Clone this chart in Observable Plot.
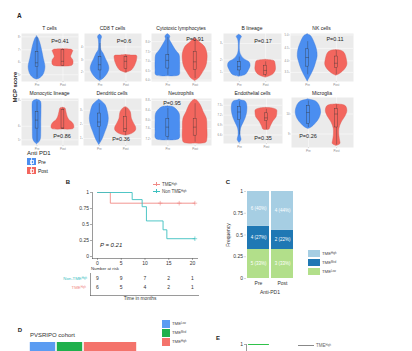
<!DOCTYPE html>
<html><head><meta charset="utf-8">
<script src="https://cdn.jsdelivr.net/npm/d3@7"></script>
<script src="https://cdn.jsdelivr.net/npm/@observablehq/plot@0.6"></script>
<style>
html,body{margin:0;padding:0;background:#fff;}
#root{position:relative;width:412px;height:351px;overflow:hidden;font-family:"Liberation Sans",Arial,sans-serif;color:#222;}
.abs{position:absolute;line-height:0;}
.t{position:absolute;white-space:nowrap;line-height:1;}
sup{font-size:60%;vertical-align:0.45em;line-height:0;}
</style></head><body><div id="root"></div>
<script>
// ---------------- DATA ----------------
const groups = ["Pre", "Post"];
const cellTypes = ["T cells","CD8 T cells","Cytotoxic lymphocytes","B lineage","NK cells",
  "Monocytic lineage","Dendritic cells","Neutrophils","Endothelial cells","Microglia"];
const pValues = ["0.41","0.6","0.91","0.17","0.11","0.86","0.36","0.95","0.35","0.26"];
// violin outlines: [score (0-100 of panel range), relative density]
const violinPre = [
  [[94,0],[90,0.12],[79,0.29],[65,0.43],[47,0.58],[30,0.72],[15,0.58],[7,0.29],[4,0]],
  [[97,0],[96,0.1],[92,0.17],[86,0.1],[65,0.12],[58,0.3],[47,0.5],[37,0.7],[26,0.8],[15,0.62],[7,0.35],[1,0]],
  [[98,0],[97,0.1],[93,0.2],[88,0.15],[80,0.3],[65,0.65],[55,0.95],[44,1.0],[24,1.0],[13,0.95],[11,0]],
  [[97,0],[96,0.1],[93,0.22],[87,0.1],[79,0.05],[58,0.1],[47,0.4],[40,0.85],[33,0.95],[23,0.8],[14,0.55],[10,0]],
  [[98,0],[97,0.1],[95,0.25],[83,0.5],[66,0.72],[52,0.77],[38,0.64],[24,0.46],[10,0.2],[0,0]],
  [[97,0],[96,0.2],[93,0.34],[71,0.38],[50,0.36],[29,0.36],[11,0.3],[2,0]],
  [[97,0],[96,0.1],[86,0.52],[71,0.72],[57,0.8],[43,0.72],[29,0.52],[14,0.29],[1,0]],
  [[83,0],[82,0.4],[79,0.6],[68,0.95],[50,1.0],[29,1.0],[14,0.95],[11,0]],
  [[97,0],[96,0.1],[93,0.5],[85,0.63],[70,0.63],[56,0.5],[44,0.3],[33,0.12],[19,0.08],[10,0.15],[7,0.15],[1,0]],
  [[96,0],[95,0.2],[92,0.6],[85,0.85],[70,1.0],[57,0.85],[47,0.55],[40,0.25],[37,0]]
];
const violinPost = [
  [[67,0],[66,0.75],[64,0.88],[58,0.8],[51,0.7],[44,0.88],[37,0.9],[33,0.8],[31,0]],
  [[55,0],[54,0.5],[53,0.95],[45,0.95],[40,0.9],[30,0.72],[23,0.5],[18,0]],
  [[89,0],[88,0.1],[79,0.5],[72,0.8],[58,1.0],[44,1.0],[31,0.9],[17,0.6],[6,0.3],[1,0]],
  [[45,0],[44,0.5],[42,0.75],[33,0.85],[23,0.85],[14,0.6],[8,0]],
  [[65,0],[64,0.38],[59,0.65],[45,0.82],[34,0.85],[24,0.64],[16,0.3],[12,0]],
  [[80,0],[79,0.2],[71,0.3],[61,0.4],[54,0.55],[46,0.9],[39,0.98],[35,0.9],[34,0]],
  [[81,0],[80,0.15],[71,0.43],[57,0.52],[46,0.72],[39,0.87],[32,0.87],[25,0.55],[21,0]],
  [[97,0],[96,0.15],[86,0.45],[71,0.7],[57,0.95],[36,1.0],[14,1.0],[6,0.9],[4,0]],
  [[79,0],[78,0.5],[74,0.88],[67,0.9],[59,0.85],[48,0.55],[37,0.35],[31,0.25],[30,0]],
  [[86,0],[85,0.5],[82,0.75],[73,0.85],[63,0.72],[50,0.4],[37,0.22],[23,0.22],[13,0.28],[7,0.3],[3,0]]
];
// box stats: [lower whisker, q1, median, q3, upper whisker]
const boxPre = [[7,30,39,61,92],[5,23,35,51,79],[13,27,44,55,92],[12,23,31,40,51],[14,31,50,67,83],
  [7,36,54,71,93],[7,39,50,68,89],[11,18,39,57,79],[19,52,70,81,93],[40,47,70,83,93]];
const boxPost = [[31,33,42,65,66],[18,26,42,51,54],[6,24,41,62,83],[10,14,23,33,41],[14,28,38,52,64],
  [34,36,37,75,79],[21,29,36,61,79],[7,21,39,57,89],[31,50,57,67,76],[5,40,67,77,85]];
const yTicks = [[14,40,66,93],[20,45,72],[3,22,42,62,83],[19,45,79],[19,43,69,97],
  [12,41,96],[15,45,75],[14,36,54,75,96],[19,41,63,85],[27,67]];
const yTickLabels = [["5","6","7","8"],["2","3","4"],["6.0","6.5","7.0","7.5","8.0"],["1","2","3"],["3.5","4.0","4.5","5.0"],
  ["5","6","8"],["1","2","3"],["7.2","7.6","8.0","8.4","8.8"],["6.6","6.9","7.2","7.5"],["9","10"]];

// Kaplan-Meier (panel B)
const kmHighT = [0, 2.7, 20.5];
const kmHighS = [1, 0.833, 0.833];
const kmNonT = [0, 7.3, 9.4, 10.3, 13.8, 14.6, 20.5];
const kmNonS = [1, 0.889, 0.778, 0.556, 0.417, 0.278, 0.278];
const censorHighT = [13.2, 17.2, 20.5];
const censorHighS = [0.833, 0.833, 0.833];
const censorNonT = [20.5];
const censorNonS = [0.278];
const kmYTicks = [0, 0.25, 0.5, 0.75, 1];
const riskTimes = [0, 5, 10, 15, 20];
const riskGroups = ["Non", "High"];
const riskNon = [9, 9, 7, 2, 1];
const riskHigh = [6, 5, 4, 2, 1];
const pKM = "0.21";

// Panel C
const cGroups = ["Pre", "Post"];
const tmeClasses = ["Low", "Med", "High"];
const cPreCounts = [5, 4, 6];
const cPostCounts = [3, 2, 4];

// Panel D
const dClasses = ["Low", "Med", "High"];
const dCounts = [2, 2, 4];

// Panel E
const eT = [0, 5.2];
const eS = [1, 1];

// ---------------- STYLE / LAYOUT ----------------
const colPre = "#4b8ef0", colPost = "#f3665e";
const strokePre = "#3a77d8", strokePost = "#d9534b";
const colPink = "#f08a86", colTeal = "#3cc0bf";
const cColors = ["#b2df8a", "#1f78b4", "#a6cee3"];
const dColors = ["#5b9cf2", "#1fb04c", "#f4736b"];
const font = "Liberation Sans, Arial, sans-serif";
// panel boxes [left, right, top, bottom] and P-label centres
const panelBox = [[21,78,33,81],[84,141,33,81],[151,211,33,81],[223,281,33,81],[290,353,33,81],
  [21,78,98,145],[83,141,98,145],[151,211,98,145],[223,282,98,143],[291,353,97,147]];
const pPos = [[60,42],[124,42],[195,40],[263,42],[335,40],[62,137],[121,140],[172,104],[263,139],[308,137]];

const root = document.getElementById("root");
function place(node, left, top) {
  const d = document.createElement("div"); d.className = "abs";
  d.style.left = left + "px"; d.style.top = top + "px";
  d.appendChild(node); root.appendChild(d); return d;
}
function label(html, x, y, o = {}) {
  const {size = 5, anchor = "middle", weight = "normal", color = "#222", italic = false, rotate = 0} = o;
  const d = document.createElement("div"); d.className = "t"; d.innerHTML = html;
  d.style.left = x + "px"; d.style.top = y + "px"; d.style.fontSize = size + "px";
  d.style.fontWeight = weight; d.style.color = color; if (italic) d.style.fontStyle = "italic";
  const tx = anchor === "start" ? "0" : anchor === "end" ? "-100%" : "-50%";
  d.style.transform = `translate(${tx},-50%)` + (rotate ? ` rotate(${rotate}deg)` : "");
  if (rotate) d.style.transformOrigin = anchor === "middle" ? "50% 50%" : "0 50%";
  root.appendChild(d); return d;
}
function box(x, y, w, h, color, extra = "") {
  const d = document.createElement("div");
  d.style.cssText = `position:absolute;left:${x}px;top:${y}px;width:${w}px;height:${h}px;background:${color};${extra}`;
  root.appendChild(d); return d;
}

// ---------------- PANEL A: violins ----------------
label("A", 17, 16, {size: 6.5, weight: "bold", anchor: "start"});
label("MCP score", 15, 87, {size: 6, weight: "bold", rotate: -90});

cellTypes.forEach((name, i) => {
  const [L, R, T, B] = panelBox[i];
  const mL = 9, mR = 1, mT = 1, mB = 7;
  const pre = violinPre[i].map(([y, w]) => ({pos: 1, y, w}));
  const post = violinPost[i].map(([y, w]) => ({pos: 2, y, w}));
  const boxes = [boxPre[i], boxPost[i]].map((b, gi) => ({pos: gi + 1, lo: b[0], q1: b[1], med: b[2], q3: b[3], hi: b[4]}));
  const half = 0.45, bw = 0.055;
  const chart = Plot.plot({
    width: R - L + mL + mR, height: B - T + mT + mB,
    marginLeft: mL, marginRight: mR, marginTop: mT, marginBottom: mB,
    style: {fontFamily: font, background: "transparent", overflow: "visible"},
    x: {domain: [0.4, 2.6]}, y: {domain: [0, 100]},
    marks: [
      Plot.frame({fill: "#ebebeb", stroke: "none"}),
      Plot.gridY({ticks: yTicks[i], stroke: "#fff", strokeOpacity: 1, strokeWidth: 0.5}),
      Plot.gridX({ticks: [1, 2], stroke: "#fff", strokeOpacity: 1, strokeWidth: 0.5}),
      Plot.areaX(pre, {y: "y", x1: d => d.pos - d.w * half, x2: d => d.pos + d.w * half, fill: colPre, stroke: strokePre, strokeWidth: 0.4, curve: "catmull-rom"}),
      Plot.areaX(post, {y: "y", x1: d => d.pos - d.w * half, x2: d => d.pos + d.w * half, fill: colPost, stroke: strokePost, strokeWidth: 0.4, curve: "catmull-rom"}),
      Plot.ruleX(boxes, {x: "pos", y1: "lo", y2: "q1", stroke: "#333", strokeWidth: 0.35}),
      Plot.ruleX(boxes, {x: "pos", y1: "q3", y2: "hi", stroke: "#333", strokeWidth: 0.35}),
      Plot.rect(boxes, {x1: d => d.pos - bw, x2: d => d.pos + bw, y1: "q1", y2: "q3", fill: "none", stroke: "#333", strokeWidth: 0.35}),
      Plot.ruleY(boxes, {x1: d => d.pos - bw, x2: d => d.pos + bw, y: "med", stroke: "#333", strokeWidth: 0.4}),
      Plot.axisY({ticks: yTicks[i], tickFormat: (d, k) => yTickLabels[i][k], tickSize: 1.2, tickPadding: 0.8, fontSize: 2.8, fill: "#888", stroke: "#999", strokeWidth: 0.3, label: null}),
      Plot.axisX({ticks: [1, 2], tickFormat: d => groups[d - 1], tickSize: 1.2, tickPadding: 0.8, fontSize: 3, fill: "#888", stroke: "#999", strokeWidth: 0.3, label: null})
    ]
  });
  place(chart, L - mL, T - mT);
  label(name, (L + R) / 2, i < 5 ? 28 : 93, {size: 5});
  label("P=" + pValues[i], pPos[i][0], pPos[i][1], {size: 5.5});
});

// legend A
label("Anti PD1", 27, 153, {size: 6, anchor: "start"});
[[colPre, 158, "Pre"], [colPost, 167, "Post"]].forEach(([c, y, t]) => {
  box(27, y, 9, 7, c);
  box(29.5, y + 1.5, 4, 4, "transparent", "border:0.5px solid rgba(255,255,255,0.8);box-sizing:border-box;");
  box(31.3, y, 0.5, 7, "rgba(255,255,255,0.8)");
  label(t, 38, y + 3.8, {size: 5, anchor: "start"});
});

// ---------------- PANEL B: KM ----------------
label("B", 68, 182, {size: 6, weight: "bold"});
const highRows = kmHighT.map((t, k) => ({t, s: kmHighS[k]}));
const nonRows = kmNonT.map((t, k) => ({t, s: kmNonS[k]}));
const km = Plot.plot({
  width: 143, height: 90, marginLeft: 30, marginRight: 8, marginTop: 10, marginBottom: 14,
  style: {fontFamily: font, background: "transparent", overflow: "visible"},
  x: {domain: [0, 20], insetLeft: 5, insetRight: 5},
  y: {domain: [0, 1], insetBottom: 2},
  marks: [
    Plot.frame({anchor: "left", stroke: "#555", strokeWidth: 0.6}),
    Plot.frame({anchor: "bottom", stroke: "#555", strokeWidth: 0.6}),
    Plot.axisY({ticks: kmYTicks, tickFormat: d => String(d), tickSize: 2, tickPadding: 1.5, fontSize: 5, fill: "#333", stroke: "#555", strokeWidth: 0.5, label: null}),
    Plot.axisX({ticks: riskTimes, tickFormat: d => String(d), tickSize: 2, tickPadding: 1, fontSize: 5, fill: "#333", stroke: "#555", strokeWidth: 0.5, label: null}),
    Plot.line(highRows, {x: "t", y: "s", curve: "step-after", stroke: colPink, strokeWidth: 0.9}),
    Plot.line(nonRows, {x: "t", y: "s", curve: "step-after", stroke: colTeal, strokeWidth: 0.9}),
    Plot.dot(censorHighT.map((t, k) => ({t, s: censorHighS[k]})), {x: "t", y: "s", symbol: "plus", r: 1.6, stroke: colPink, strokeWidth: 0.6}),
    Plot.dot(censorNonT.map((t, k) => ({t, s: censorNonS[k]})), {x: "t", y: "s", symbol: "plus", r: 1.6, stroke: colTeal, strokeWidth: 0.6})
  ]
});
place(km, 62, 182);
label("<i>P</i> = " + pKM, 100, 245, {size: 6, anchor: "start", italic: true});
// legend B
box(153, 183.7, 7, 0.7, colPink); box(156.2, 182.2, 0.6, 3.5, colPink);
label("TME<sup>High</sup>", 162, 184.5, {size: 4.5, anchor: "start", color: "#444"});
box(153, 190.7, 7, 0.7, colTeal); box(156.2, 189.2, 0.6, 3.5, colTeal);
label("Non TME<sup>High</sup>", 162, 191.5, {size: 4.5, anchor: "start", color: "#444"});

// risk table
label("Number at risk", 91, 269, {size: 4.3, anchor: "start", color: "#333"});
const riskRows = [];
riskTimes.forEach((t, k) => {
  riskRows.push({t, g: "Non", n: riskNon[k]});
  riskRows.push({t, g: "High", n: riskHigh[k]});
});
const risk = Plot.plot({
  width: 115, height: 22, marginLeft: 5, marginRight: 2, marginTop: 0, marginBottom: 0,
  style: {fontFamily: font, background: "transparent", overflow: "visible"},
  x: {domain: [0, 20], insetLeft: 7, insetRight: 6, axis: null},
  y: {type: "point", domain: riskGroups, padding: 0.55, insetBottom: 3, axis: null},
  marks: [
    Plot.frame({anchor: "left", stroke: "#555", strokeWidth: 0.6}),
    Plot.frame({anchor: "bottom", stroke: "#555", strokeWidth: 0.6}),
    Plot.text(riskRows, {x: "t", y: "g", text: "n", fontSize: 5, fill: "#333"})
  ]
});
place(risk, 85, 273);
label("Non-TME<sup>High</sup>", 87, 278.5, {size: 4.3, anchor: "end", color: colTeal});
label("TME<sup>High</sup>", 86, 288, {size: 4.3, anchor: "end", color: colPink});
label("Time in months", 140, 299, {size: 4.8, color: "#333"});

// ---------------- PANEL C ----------------
label("C", 228, 182, {size: 6, weight: "bold"});
const cRows = [];
[cPreCounts, cPostCounts].forEach((arr, gi) => {
  const tot = d3.sum(arr);
  arr.forEach((n, k) => cRows.push({g: cGroups[gi], cls: tmeClasses[k], n, pct: Math.round(n / tot * 100)}));
});
const cPlot = Plot.plot({
  width: 77, height: 116, marginLeft: 25, marginRight: 4, marginTop: 9, marginBottom: 20,
  style: {fontFamily: font, background: "transparent", overflow: "visible"},
  x: {domain: cGroups, paddingInner: 0.08, paddingOuter: 0.02},
  y: {domain: [0, 1]},
  color: {domain: tmeClasses, range: cColors},
  marks: [
    Plot.barY(cRows, {x: "g", y: "n", fill: "cls", offset: "normalize"}),
    Plot.text(cRows, Plot.stackY({x: "g", y: "n", offset: "normalize", text: d => `${d.n} (${d.pct}%)`, fill: "white", fontSize: 4.5})),
    Plot.axisY({ticks: kmYTicks, tickFormat: d => String(d), tickSize: 2, tickPadding: 1.5, fontSize: 5, fill: "#333", stroke: "#999", strokeWidth: 0.4, label: null}),
    Plot.axisX({tickSize: 0, tickPadding: 3, fontSize: 5, fill: "#333", label: null})
  ]
});
place(cPlot, 221, 182);
label("Frequency", 228, 235, {size: 5, rotate: -90, color: "#333"});
label("Anti-PD1", 270, 292, {size: 5, color: "#333"});
[["High", 250, cColors[2]], ["Med", 259, cColors[1]], ["Low", 268, cColors[0]]].forEach(([t, y, c]) => {
  box(308, y, 12, 7, c);
  label("TME<sup>" + t + "</sup>", 322, y + 3.8, {size: 4.3, anchor: "start", color: "#444"});
});

// ---------------- PANEL D ----------------
label("D", 20, 330, {size: 6, weight: "bold"});
label("PVSRIPO cohort", 30, 335, {size: 6, anchor: "start", color: "#333"});
const dRows = dClasses.map((cls, k) => ({cls, n: dCounts[k]}));
const dPlot = Plot.plot({
  width: 108, height: 18, margin: 0,
  style: {background: "transparent"},
  x: {domain: [0, d3.sum(dCounts)], axis: null},
  color: {domain: dClasses, range: dColors},
  marks: [Plot.barX(dRows, {x: "n", fill: "cls", insetLeft: 0.8, insetRight: 0.8})]
});
place(dPlot, 29, 342);
[["Low", 320, dColors[0]], ["Med", 329, dColors[1]], ["High", 338, dColors[2]]].forEach(([t, y, c]) => {
  box(162, y, 8, 7.5, c);
  label("TME<sup>" + t + "</sup>", 172, y + 3.8, {size: 4.3, anchor: "start", color: "#444"});
});

// ---------------- PANEL E ----------------
label("E", 218, 338, {size: 6, weight: "bold"});
const ePlot = Plot.plot({
  width: 110, height: 40, marginLeft: 12, marginTop: 3, marginRight: 0, marginBottom: 0,
  style: {fontFamily: font, background: "transparent", overflow: "visible"},
  x: {domain: [0, 25], insetLeft: 2, axis: null},
  y: {domain: [0, 1]},
  marks: [
    Plot.frame({anchor: "left", stroke: "#555", strokeWidth: 0.6}),
    Plot.axisY({ticks: [1], tickFormat: d => String(d), tickSize: 2, tickPadding: 1.5, fontSize: 5, fill: "#333", stroke: "#555", strokeWidth: 0.5, label: null}),
    Plot.line(eT.map((t, k) => ({t, s: eS[k]})), {x: "t", y: "s", curve: "step-after", stroke: "#2fc24a", strokeWidth: 1.2})
  ]
});
place(ePlot, 234, 341);
box(298, 345, 16, 0.8, "#888");
label("TME<sup>High</sup>", 316, 346, {size: 4.5, anchor: "start", color: "#666"});
</script></body></html>
